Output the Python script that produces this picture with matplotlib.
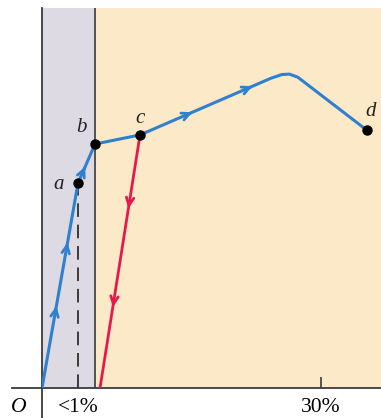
import numpy as np
import matplotlib
matplotlib.use("Agg")
import matplotlib.pyplot as plt

# data: schematic stress-strain curve (strain in %, stress in arbitrary units)
blue_x = [0.0, 3.87, 5.70, 10.54, 24.6, 25.8, 26.6, 27.5, 34.9]
blue_y = [0.0, 53.9, 64.2, 66.6, 81.5, 82.5, 82.6, 81.8, 67.9]
red_x = [10.54, 6.24]
red_y = [66.6, 0.0]
pt_names = ["a", "b", "c", "d"]
pt_idx = [1, 2, 3, 8]
# arrows as (segment index, fraction along the segment)
blue_arrows = [(0, 0.40), (0, 0.71), (1, 0.42), (3, 0.40), (3, 0.86)]
red_arrows = [(0, 0.29), (0, 0.68)]
tick_pos = [30]
tick_lab = ["30%"]
small_lab = "<1%"

BLUE = "#2f80cf"
RED = "#e8184c"
GRAY_BAND = "#dedae3"
YELLOW = "#fce9c8"
DARK = "#3a3a3a"

fig = plt.figure(figsize=(3.81, 4.18), dpi=100)
ax = fig.add_axes([42 / 381, 30 / 418, 339 / 381, 380 / 418])
xmax = 339 / 9.3
ax.set_xlim(0, xmax)
ax.set_ylim(0, 100)

b_x = blue_x[2]
ax.axvspan(0, b_x, color=GRAY_BAND, lw=0)
ax.axvspan(b_x, xmax, color=YELLOW, lw=0)
ax.axvline(b_x, color=DARK, lw=1.2)

for s in ax.spines.values():
    s.set_visible(False)
# axes lines run past the origin
ax.plot([-0.0885, 1], [0, 0], transform=ax.transAxes, color=DARK, lw=1.3, clip_on=False)
ax.plot([0, 0], [-0.08, 1], transform=ax.transAxes, color=DARK, lw=1.3, clip_on=False)

# dashed drop from a
ax.plot([blue_x[1], blue_x[1]], [0, blue_y[1]], color=DARK, lw=1.4,
        dashes=(7, 4), zorder=2)

ax.plot(blue_x, blue_y, color=BLUE, lw=2.2, solid_capstyle="round",
        solid_joinstyle="round", zorder=3)
ax.plot(red_x, red_y, color=RED, lw=2.0, zorder=3)


def add_arrows(xs, ys, arrows, color):
    for seg, f in arrows:
        x0, y0 = xs[seg], ys[seg]
        x1, y1 = xs[seg + 1], ys[seg + 1]
        xa, ya = x0 + f * (x1 - x0), y0 + f * (y1 - y0)
        xb, yb = x0 + (f - 0.02) * (x1 - x0), y0 + (f - 0.02) * (y1 - y0)
        ax.annotate("", xy=(xa, ya), xytext=(xb, yb),
                    arrowprops=dict(arrowstyle="->,head_length=0.55,head_width=0.27",
                                    color=color, lw=2.0, shrinkA=0, shrinkB=0),
                    zorder=4)


add_arrows(blue_x, blue_y, blue_arrows, BLUE)
add_arrows(red_x, red_y, red_arrows, RED)

px = [blue_x[i] for i in pt_idx]
py = [blue_y[i] for i in pt_idx]
ax.plot(px, py, "o", color="black", ms=6.5, zorder=5)

lab_off = {"a": (-14, -1), "b": (-10, 12), "c": (0, 12), "d": (3, 13)}
for n, x, y in zip(pt_names, px, py):
    dx, dy = lab_off[n]
    ax.annotate(n, (x, y), xytext=(dx, dy), textcoords="offset points",
                ha="center", va="center", fontsize=15, style="italic",
                family="Liberation Serif", color="#222")

ax.set_xticks(tick_pos)
ax.set_xticklabels([])
ax.tick_params(axis="x", direction="in", length=8, width=1.2, color=DARK)
ax.set_yticks([])

# bottom labels, baseline ~24px below the axis
for x, t in zip(tick_pos, tick_lab):
    ax.text(x, -6.3, t, ha="center", va="baseline", fontsize=15.5,
            family="Liberation Serif", clip_on=False)
ax.text(blue_x[1], -6.3, small_lab, ha="center", va="baseline", fontsize=15.5,
        family="Liberation Serif", clip_on=False)
ax.text(-0.07, -0.063, "O", transform=ax.transAxes, ha="center", va="baseline",
        fontsize=15.5, style="italic", family="Liberation Serif", clip_on=False)

fig.savefig("out.png", dpi=100)
